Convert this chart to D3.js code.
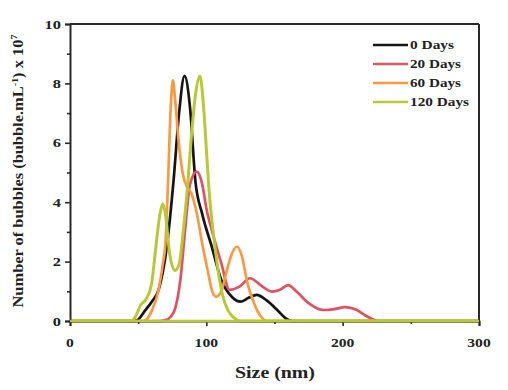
<!DOCTYPE html>
<html><head><meta charset="utf-8">
<script src="https://cdn.jsdelivr.net/npm/d3@7"></script>
<style>html,body{margin:0;padding:0;background:#fff;}svg{display:block;}</style>
</head><body>
<script>
// ---- data ----
const seriesNames = ["0 Days", "20 Days", "60 Days", "120 Days"];
const seriesColors = ["#151515", "#e2515f", "#f99a43", "#b7c936"];

const size0  = [0, 46, 49, 55, 60, 65, 71, 76, 80, 84, 88, 92, 97, 104, 111, 119, 125, 131, 137, 144, 152, 158, 163, 300];
const count0 = [0, 0, 0.02, 0.35, 0.65, 1.05, 2.5, 4.75, 7.0, 8.25, 7.2, 4.7, 3.6, 2.5, 1.38, 0.8, 0.65, 0.78, 0.88, 0.7, 0.37, 0.1, 0, 0];

const size20  = [0, 65, 70, 74, 77, 81, 84.5, 88, 93, 97, 100, 104, 111, 117, 124, 132, 140, 148, 154, 160, 166, 175, 186, 194, 202, 210, 218, 226, 300];
const count20 = [0, 0, 0.03, 0.15, 0.4, 1.4, 3.1, 4.6, 5.03, 4.6, 3.8, 3.06, 1.94, 1.05, 1.15, 1.44, 1.2, 0.99, 1.05, 1.21, 1.0, 0.6, 0.37, 0.4, 0.47, 0.38, 0.15, 0, 0];

const size60  = [0, 53, 56, 60, 65, 68, 70, 72, 74, 75.5, 77, 80, 83, 86, 89, 93, 97, 101, 104, 107, 111, 115, 119, 122.5, 126, 130, 135, 140, 145, 300];
const count60 = [0, 0, 0.05, 0.35, 1.05, 1.9, 2.6, 4.8, 7.3, 8.1, 7.5, 5.9, 4.9, 4.5, 4.3, 3.63, 2.6, 1.7, 1.05, 0.82, 1.0, 1.7, 2.3, 2.5, 2.2, 1.3, 0.6, 0.15, 0, 0];

const size120  = [0, 45, 48, 52, 56, 60, 63, 66, 68, 70, 73, 77, 80, 83, 86.5, 89, 92, 95.3, 98, 100, 102, 105, 108, 112, 116, 120, 125, 300];
const count120 = [0, 0, 0.15, 0.55, 0.75, 1.3, 2.5, 3.6, 3.95, 3.6, 2.3, 1.7, 1.9, 3.0, 4.7, 6.2, 7.6, 8.25, 7.2, 5.8, 4.4, 3.0, 1.9, 0.85, 0.35, 0.12, 0, 0];

const xTicks = [0, 100, 200, 300];
const xMinor = [50, 150, 250];
const yTicks = [0, 2, 4, 6, 8, 10];
const yMinor = [1, 3, 5, 7, 9];

// ---- layout ----
const W = 508, H = 390;
const L = 70, R = 479, T = 24, B = 321;
const FONT = "'Times New Roman', 'Liberation Serif', Times, serif";
const AX = "#2a2a2a";

const svg = d3.select("body").append("svg").attr("width", W).attr("height", H);
const x = d3.scaleLinear().domain([0, 300]).range([L, R]);
const y = d3.scaleLinear().domain([0, 10]).range([B, T]);

const series = [
  {x: size0, y: count0},
  {x: size20, y: count20},
  {x: size60, y: count60},
  {x: size120, y: count120}
];

const line = d3.line().x(d => x(d[0])).y(d => y(d[1])).curve(d3.curveMonotoneX);
const plot = svg.append("g");
series.forEach((s, i) => {
  const pts = s.x.map((v, k) => [v, s.y[k]]);
  plot.append("path").attr("d", line(pts)).attr("fill", "none")
    .attr("stroke", seriesColors[i]).attr("stroke-width", i === 3 ? 3 : 2.7)
    .attr("stroke-linejoin", "round");
});

// frame
svg.append("line").attr("x1", L).attr("x2", R).attr("y1", T).attr("y2", T).attr("stroke", AX).attr("stroke-width", 2);
svg.append("line").attr("x1", R).attr("x2", R).attr("y1", T).attr("y2", B).attr("stroke", AX).attr("stroke-width", 2);

// axes
const gx = svg.append("g").attr("transform", `translate(0,${B})`)
  .call(d3.axisBottom(x).tickValues(xTicks).tickSize(5).tickFormat(""));
svg.append("g").attr("transform", `translate(0,${B})`)
  .call(d3.axisBottom(x).tickValues(xMinor).tickSize(3).tickFormat(""))
  .select(".domain").remove();
const gy = svg.append("g").attr("transform", `translate(${L},0)`)
  .call(d3.axisLeft(y).tickValues(yTicks).tickSize(5).tickFormat(""));
svg.append("g").attr("transform", `translate(${L},0)`)
  .call(d3.axisLeft(y).tickValues(yMinor).tickSize(3).tickFormat(""))
  .select(".domain").remove();
svg.selectAll(".domain").attr("stroke", AX).attr("stroke-width", 2);
svg.selectAll(".tick line").attr("stroke", AX).attr("stroke-width", 1.6);

// redraw green baseline over the x axis
const base = [[0, 0], [300, 0]];
svg.append("path").attr("d", d3.line().x(d => x(d[0])).y(d => y(d[1]))(base))
  .attr("stroke", seriesColors[3]).attr("stroke-width", 2.6).attr("fill", "none");

function stretchedText(parent, str, px, py, size, width, anchor) {
  return parent.append("text")
    .attr("x", px).attr("y", py)
    .attr("font-family", FONT).attr("font-weight", "bold")
    .attr("font-size", size).attr("fill", "#222")
    .attr("text-anchor", anchor || "middle")
    .attr("textLength", width).attr("lengthAdjust", "spacingAndGlyphs")
    .text(str);
}

xTicks.forEach(v => {
  const s = String(v);
  stretchedText(svg, s, x(v), 347, 13.5, s.length * 7.8, "middle");
});
yTicks.forEach(v => {
  const s = String(v);
  stretchedText(svg, s, 61, y(v) + 4.5, 13.5, s.length * 8.2, "end");
});

// x label
stretchedText(svg, "Size (nm)", 275, 378, 17, 80, "middle");

// y label
const yl = svg.append("text")
  .attr("transform", "translate(23,171) rotate(-90)")
  .attr("font-family", FONT).attr("font-weight", "bold").attr("font-size", 14.5).attr("fill", "#222")
  .attr("text-anchor", "middle")
  .attr("textLength", 273).attr("lengthAdjust", "spacingAndGlyphs");
yl.append("tspan").text("Number of bubbles (bubble.mL");
yl.append("tspan").attr("dy", -5).attr("font-size", 9).text("-1");
yl.append("tspan").attr("dy", 5).text(") x 10");
yl.append("tspan").attr("dy", -6).attr("font-size", 9).text("7");

// legend
const legY = [45, 64, 83, 102];
const legWidths = [44, 51, 51, 59];
seriesNames.forEach((n, i) => {
  svg.append("line").attr("x1", 373).attr("x2", 408).attr("y1", legY[i]).attr("y2", legY[i])
    .attr("stroke", seriesColors[i]).attr("stroke-width", 2.6);
  stretchedText(svg, n, 410, legY[i] + 4, 12, legWidths[i], "start");
});
</script>
</body></html>
